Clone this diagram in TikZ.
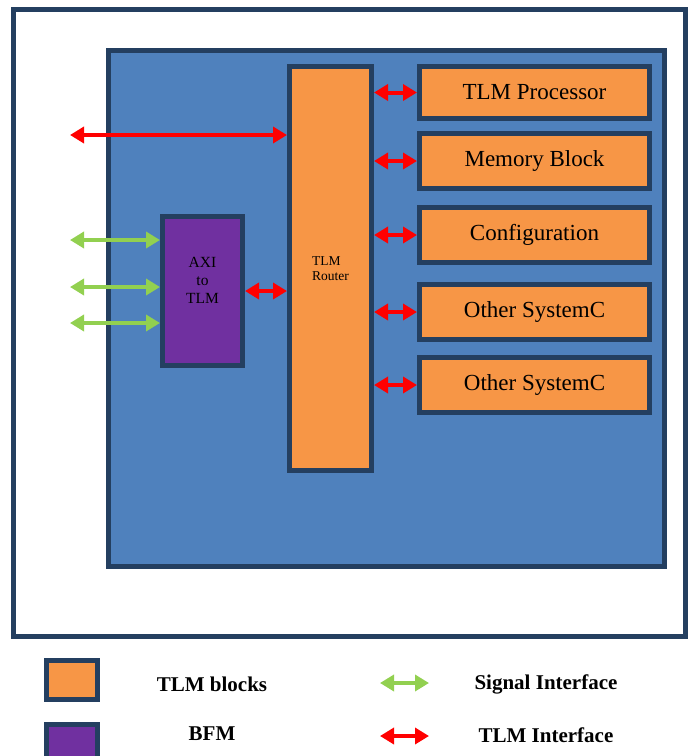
\documentclass[tikz,border=0pt]{standalone}
\usepackage{fontspec}
\setmainfont{Liberation Serif}
\usetikzlibrary{arrows.meta, positioning}
\definecolor{frameblue}{HTML}{243F60}
\definecolor{socblue}{HTML}{4F81BD}
\definecolor{tlmorange}{HTML}{F79646}
\definecolor{bfmpurple}{HTML}{7030A0}
\definecolor{siggreen}{HTML}{92D050}
\tikzstyle{block} = [rectangle, draw=frameblue, line width=5pt, fill=tlmorange, minimum width=230pt, minimum height=55pt, inner sep=0pt, text centered, font=\fontsize{23}{26}\selectfont]
\tikzstyle{bfm} = [rectangle, draw=frameblue, line width=5pt, fill=bfmpurple, inner sep=0pt, align=center, font=\fontsize{15.5}{18}\selectfont]
\tikzstyle{key} = [rectangle, draw=frameblue, line width=5pt, minimum width=51pt, minimum height=39pt, inner sep=0pt]
\tikzstyle{keytext} = [font=\fontsize{21}{24}\selectfont\bfseries]
\tikzstyle{tlmarrow} = [line width=4pt, red, {Triangle[length=14pt,width=16pt]}-{Triangle[length=14pt,width=16pt]}]
\tikzstyle{sigarrow} = [tlmarrow, siggreen]

\begin{document}
\begin{tikzpicture}[x=1pt, y=-1pt]
        \useasboundingbox (0,0) rectangle (691,756);
        \node (frame) [rectangle, draw=frameblue, line width=5pt, minimum width=672pt,
            minimum height=627pt] at (349.5,323) {};
        \node (soc) [rectangle, draw=frameblue, line width=5pt, fill=socblue,
            minimum width=556pt, minimum height=516pt] at (386.5,308.5) {};

        \node (router) [block, minimum width=82pt, minimum height=404pt, align=left,
            font=\fontsize{13.5}{15.5}\selectfont] at (330.5,268.5) {TLM\\Router};
        \node (axi) [bfm, minimum width=80pt, minimum height=149pt] at (202.5,291)
            {AXI\\to\\TLM\\[4pt]};

        \node (proc) [block, minimum height=52pt] at (534.5,92.5) {TLM Processor};
        \node (mem) [block] at (534.5,161) {Memory Block};
        \node (conf) [block] at (534.5,235) {Configuration};
        \node (sysa) [block] at (534.5,312) {Other SystemC};
        \node (sysb) [block] at (534.5,385) {Other SystemC};

        \coordinate (ext) at (70,135);
        \draw [tlmarrow] (ext) -- (ext -| router.west);
        \foreach \y [count=\i] in {240,287,323} {
            \coordinate (pin\i) at (70,\y);
            \draw [sigarrow] (pin\i) -- (pin\i -| axi.west);
        }
        \draw [tlmarrow] (axi.east) -- (router.west |- axi.east);
        \foreach \blk in {proc,mem,conf,sysa,sysb}
            \draw [tlmarrow] (router.east |- \blk.west) -- (\blk.west);

        % legend
        \node (keyblk) [key, fill=tlmorange] at (72,680) {};
        \node (keybfm) [key, fill=bfmpurple] at (72,744) {};
        \node (txtblk) [keytext] at (212,684) {TLM blocks};
        \node (txtbfm) [keytext] at (212,734) {BFM};
        \coordinate (sigl) at (380,683);
        \coordinate (sigr) at (429,683);
        \draw [sigarrow] (sigl) -- (sigr);
        \coordinate (tlml) at (380,736);
        \coordinate (tlmr) at (429,736);
        \draw [tlmarrow] (tlml) -- (tlmr);
        \node (txtsig) [keytext] at (546,684) {Signal Interface};
        \node (txttlm) [keytext] at (546,735) {TLM Interface};
    \end{tikzpicture}
\end{document}
